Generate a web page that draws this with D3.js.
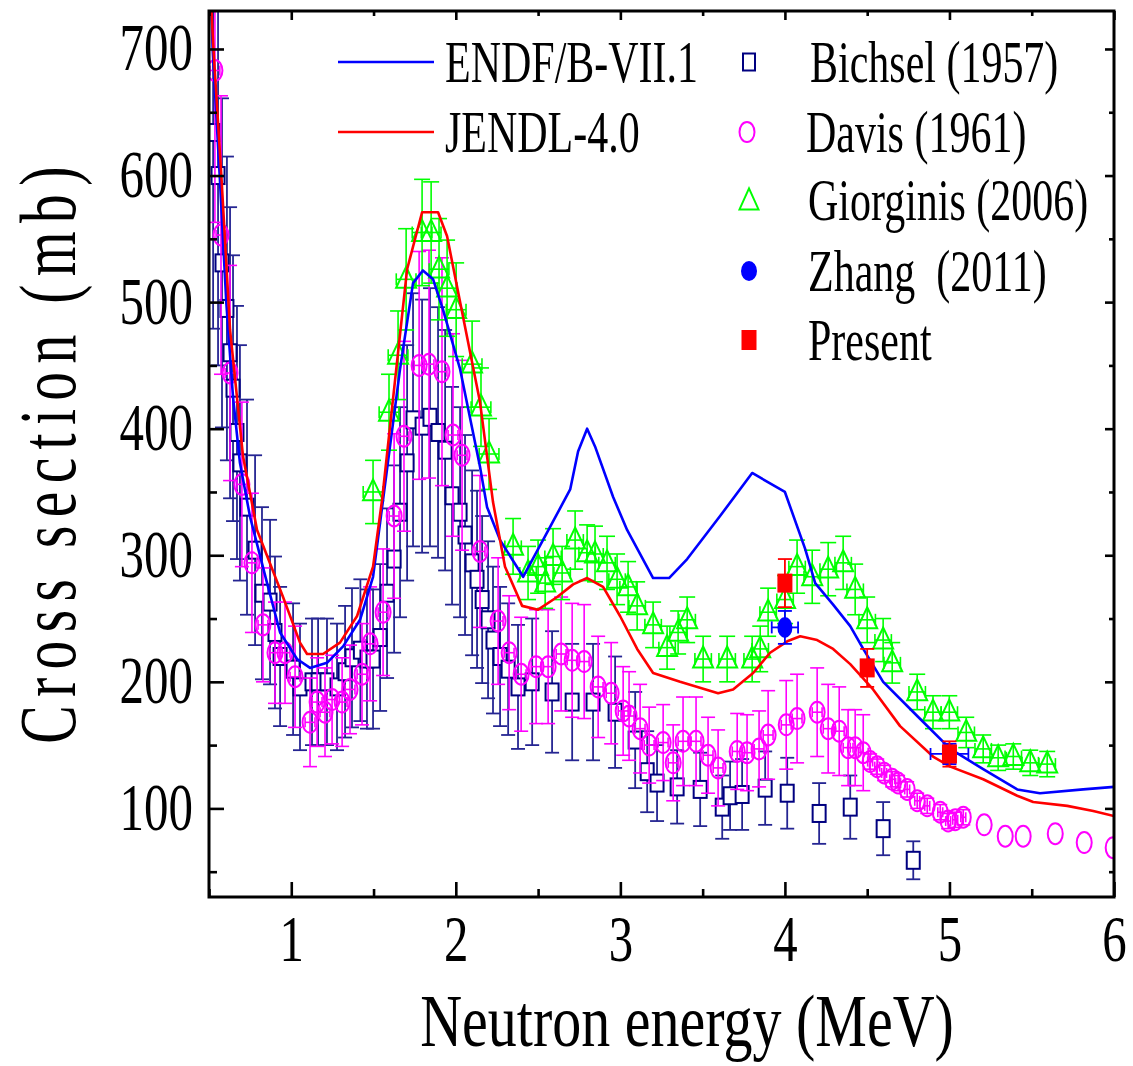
<!DOCTYPE html>
<html><head><meta charset="utf-8">
<script src="https://cdn.jsdelivr.net/npm/d3@7/dist/d3.min.js"></script>
<style>body{margin:0;background:#fff}svg{display:block}</style>
</head><body>
<script>
// ---------- data ----------
const xTicks = [1, 2, 3, 4, 5, 6];
const xMinor = [0.5, 1.5, 2.5, 3.5, 4.5, 5.5];
const yTicks = [100, 200, 300, 400, 500, 600, 700];
const yMinor = [50, 150, 250, 350, 450, 550, 650];
const xTitle = "Neutron energy (MeV)";
const yTitle = "Cross section (mb)";
const lineLabels = ["ENDF/B-VII.1", "JENDL-4.0"];
const symbolLabels = ["Bichsel (1957)", "Davis (1961)", "Giorginis (2006)", "Zhang  (2011)", "Present"];

const endfE  = [0.5,0.522,0.565,0.605,0.646,0.688,0.75,0.853,0.932,1.035,1.114,1.217,1.315,1.418,1.497,1.558,1.661,1.74,1.80,1.862,1.922,2.026,2.147,2.19,2.269,2.409,2.555,2.695,2.743,2.798,2.846,2.956,3.041,3.199,3.296,3.406,3.606,3.801,4.0,4.123,4.184,4.293,4.397,4.476,4.597,4.804,5.005,5.205,5.412,5.55,5.813,6.0];
const endfXS = [800,700,600,500,425,373,330,278,239,218,211,215,228,249,283,344,447,515,525,518,494,447,370,338,312,283,318,352,382,400,386,346,320,282,282,297,331,365,350,305,278,261,244,226,200,173,147,131,115,112,115,117];

const jendlE  = [0.5,0.527,0.575,0.628,0.707,0.792,0.95,1.053,1.096,1.193,1.296,1.4,1.497,1.552,1.704,1.795,1.892,1.947,2.026,2.147,2.226,2.299,2.403,2.5,2.616,2.713,2.798,2.895,2.998,3.102,3.199,3.363,3.594,3.685,3.807,3.91,4.014,4.093,4.196,4.293,4.397,4.536,4.7,4.9,5.005,5.205,5.412,5.509,5.716,5.874,6.0];
const jendlXS = [770,700,600,478,378,320,267,231,222,222,231,252,291,344,526,571,571,552,500,421,342,291,260,257,267,277,282,275,252,226,207,200,191,194,207,223,232,236,233,226,214,194,165,141,133,123,110,105,102,98,94];

const bichselE   = [0.525,0.555,0.579,0.609,0.628,0.646,0.670,0.688,0.731,0.780,0.822,0.871,0.901,0.932,1.011,1.053,1.126,1.163,1.217,1.278,1.327,1.369,1.42,1.46,1.497,1.54,1.582,1.625,1.661,1.704,1.74,1.795,1.843,1.892,1.935,1.977,2.026,2.056,2.099,2.129,2.16,2.196,2.226,2.269,2.318,2.378,2.464,2.585,2.707,2.834,2.968,3.09,3.163,3.223,3.345,3.485,3.619,3.667,3.74,3.88,4.014,4.208,4.397,4.597,4.78];
const bichselXS  = [634,600,531,495,460,432,397,373,338,304,270,263,239,220,210,196,200,200,200,196,208,219,225,218,218,235,270,297,334,373,407,402,409,397,383,347,334,316,294,281,265,249,233,220,210,196,200,192,184,184,176,154,129,120,117,115,101,110,111,116,112,96,101,84,59];
const bichselErr = [155,150,130,120,115,105,100,93,85,75,68,65,60,55,52,50,50,50,50,50,52,55,56,55,55,58,67,74,83,93,100,100,102,99,95,86,83,79,73,70,66,62,58,55,52,49,50,48,46,46,44,38,32,30,29,29,25,27,28,29,28,24,25,21,15];

const davisE    = [0.536,0.573,0.628,0.70,0.761,0.828,0.901,0.962,1.023,1.114,1.157,1.205,1.248,1.309,1.357,1.43,1.479,1.558,1.625,1.685,1.777,1.837,1.916,1.983,2.038,2.147,2.257,2.324,2.397,2.488,2.561,2.64,2.707,2.78,2.865,2.944,3.017,3.053,3.12,3.175,3.26,3.321,3.381,3.46,3.533,3.594,3.71,3.77,3.843,3.898,4.008,4.074,4.196,4.263,4.33,4.384,4.427,4.476,4.518,4.561,4.603,4.652,4.688,4.743,4.804,4.865,4.944,4.992,5.035,5.084,5.211,5.339,5.448,5.643,5.819,5.995];
const davisXS   = [683,553,444,356,294,245,223,223,204,168,184,176,186,184,194,206,230,255,331,394,450,451,445,395,379,303,248,223,206,212,212,222,217,216,196,191,177,173,163,150,152,136,153,153,142,132,145,144,147,158,166,171,176,163,161,148,148,144,137,133,128,123,120,115,106,102,97,90,91,93,87,78,78,80,73,69];
const davisErr  = [120,110,85,65,55,45,40,40,40,35,35,35,35,35,35,40,45,50,65,75,90,90,90,80,75,60,50,45,45,45,45,45,45,45,40,40,35,35,35,30,30,30,35,35,30,30,30,30,30,35,35,35,35,35,35,30,30,30,6,6,6,6,6,6,6,6,6,6,6,6,0,0,0,0,0,0];
const davisEErr = [0.03,0.03,0.03,0.03,0.03,0.03,0.03,0.03,0.03,0.03,0.03,0.03,0.03,0.03,0.03,0.03,0.03,0.03,0.03,0.03,0.03,0.03,0.03,0.03,0.03,0.03,0.03,0.03,0.03,0.03,0.03,0.03,0.03,0.03,0.03,0.03,0.03,0.03,0.03,0.03,0.03,0.03,0.03,0.03,0.03,0.03,0.03,0.03,0.03,0.03,0.03,0.03,0.03,0.03,0.03,0.03,0.03,0.03,0.015,0.015,0.015,0.015,0.015,0.015,0.015,0.015,0.015,0.015,0.015,0.015,0,0,0,0,0,0];

const giorgE    = [1.497,1.594,1.649,1.698,1.795,1.85,1.898,1.947,2.002,2.099,2.153,2.202,2.348,2.439,2.5,2.543,2.591,2.646,2.725,2.798,2.846,2.919,2.98,3.047,3.102,3.199,3.284,3.351,3.406,3.503,3.649,3.801,3.85,3.898,4.001,4.074,4.166,4.263,4.354,4.427,4.5,4.597,4.652,4.804,4.9,4.999,5.102,5.205,5.296,5.388,5.491,5.594];
const giorgXS   = [350,413,458,518,555,555,526,511,494,451,417,380,307,286,291,278,299,286,312,302,301,294,281,275,260,245,227,239,249,218,218,218,226,255,265,291,283,289,294,273,249,233,215,192,176,176,160,147,140,141,136,135];
const giorgErr  = [25,30,35,40,42,40,40,38,37,34,31,28,22,21,21,20,22,21,23,22,22,21,20,20,19,18,17,17,18,18,18,18,18,19,19,21,21,21,21,20,18,17,16,14,13,13,12,11,10,10,10,10];
const giorgEErr = [0.06,0.06,0.06,0.06,0.06,0.06,0.06,0.06,0.06,0.06,0.06,0.06,0.05,0.05,0.05,0.05,0.05,0.05,0.05,0.05,0.05,0.05,0.05,0.05,0.05,0.05,0.05,0.05,0.05,0.05,0.05,0.05,0.05,0.05,0.05,0.05,0.05,0.05,0.05,0.05,0.05,0.05,0.05,0.05,0.05,0.05,0.05,0.05,0.05,0.05,0.05,0.05];

const zhangE    = [5.0, 4.0];
const zhangXS   = [143, 243];
const zhangErr  = [8, 13];
const zhangEErr = [0.115, 0.08];

const presentE   = [4.0, 4.5, 5.0];
const presentXS  = [278, 211, 143];
const presentErr = [19, 15, 10];

// ---------- layout ----------
const W = 1133, H = 1066;
const L = 209, R = 1114, T = 11, B = 897;
const FONT = "'Liberation Serif','Times New Roman',serif";
const x = d3.scaleLinear().domain([0.5, 6]).range([L, R]);
const y = d3.scaleLinear().domain([30, 730]).range([B, T]);

const svg = d3.select("body").append("svg").attr("width", W).attr("height", H);
svg.append("rect").attr("width", W).attr("height", H).attr("fill", "#fff");
svg.append("defs").append("clipPath").attr("id", "clip")
  .append("rect").attr("x", L).attr("y", T).attr("width", R - L).attr("height", B - T);
const plot = svg.append("g").attr("clip-path", "url(#clip)");

const rows = (E, V, Er, Ex) => E.map((e, i) => ({e, v: V[i], err: Er ? Er[i] : 0, ex: Ex ? Ex[i] : 0}));

function errorBars(g, data, color, cap, sw, hcap, opacity) {
  const gg = g.append("g").attr("stroke", color).attr("stroke-width", sw).attr("fill", "none").attr("opacity", opacity || 1);
  data.forEach(d => {
    const cx = x(d.e), cy = y(d.v);
    if (d.err > 0) {
      const y1 = y(d.v + d.err), y2 = y(d.v - d.err);
      gg.append("line").attr("x1", cx).attr("x2", cx).attr("y1", y1).attr("y2", y2);
      gg.append("line").attr("x1", cx - cap).attr("x2", cx + cap).attr("y1", y1).attr("y2", y1);
      gg.append("line").attr("x1", cx - cap).attr("x2", cx + cap).attr("y1", y2).attr("y2", y2);
    }
    if (d.ex > 0) {
      const x1 = x(d.e - d.ex), x2 = x(d.e + d.ex);
      gg.append("line").attr("x1", x1).attr("x2", x2).attr("y1", cy).attr("y2", cy);
      gg.append("line").attr("x1", x1).attr("x2", x1).attr("y1", cy - hcap).attr("y2", cy + hcap);
      gg.append("line").attr("x1", x2).attr("x2", x2).attr("y1", cy - hcap).attr("y2", cy + hcap);
    }
  });
}
const triPath = (cx, cy, w, h) => `M${cx},${cy - h * 0.6}L${cx + w / 2},${cy + h * 0.4}L${cx - w / 2},${cy + h * 0.4}Z`;

// Bichsel
const bich = rows(bichselE, bichselXS, bichselErr);
errorBars(plot, bich, "#000080", 7, 1.8, 0, 0.85);
plot.append("g").selectAll("rect").data(bich).join("rect")
  .attr("x", d => x(d.e) - 6.5).attr("y", d => y(d.v) - 8.5).attr("width", 13).attr("height", 17)
  .attr("fill", "#fff").attr("stroke", "#000080").attr("stroke-width", 2);

// Davis
const dav = rows(davisE, davisXS, davisErr, davisEErr);
errorBars(plot, dav, "#FF00FF", 7, 1.6, 5);
plot.append("g").selectAll("ellipse").data(dav).join("ellipse")
  .attr("cx", d => x(d.e)).attr("cy", d => y(d.v)).attr("rx", 7.5).attr("ry", 10.5)
  .attr("fill", "none").attr("stroke", "#FF00FF").attr("stroke-width", 2);

// Giorginis
const gio = rows(giorgE, giorgXS, giorgErr, giorgEErr);
errorBars(plot, gio, "#00FF00", 8, 1.6, 6);
plot.append("g").selectAll("path").data(gio).join("path")
  .attr("d", d => triPath(x(d.e), y(d.v), 20, 21))
  .attr("fill", "none").attr("stroke", "#00FF00").attr("stroke-width", 2);

// evaluated lines
const line = d3.line().x(d => x(d[0])).y(d => y(d[1]));
plot.append("path").attr("d", line(d3.zip(endfE, endfXS))).attr("fill", "none").attr("stroke", "#0000FF").attr("stroke-width", 2.6).attr("stroke-linejoin", "round");
plot.append("path").attr("d", line(d3.zip(jendlE, jendlXS))).attr("fill", "none").attr("stroke", "#FF0000").attr("stroke-width", 2.6).attr("stroke-linejoin", "round");

// Zhang
const zh = rows(zhangE, zhangXS, zhangErr, zhangEErr);
errorBars(plot, zh, "#0000FF", 7, 1.8, 6);
plot.append("g").selectAll("ellipse").data(zh).join("ellipse")
  .attr("cx", d => x(d.e)).attr("cy", d => y(d.v)).attr("rx", 7.5).attr("ry", 10.5).attr("fill", "#0000FF");

// Present
const pr = rows(presentE, presentXS, presentErr);
errorBars(plot, pr, "#FF0000", 7, 1.8, 0);
plot.append("g").selectAll("rect").data(pr).join("rect")
  .attr("x", d => x(d.e) - 7.5).attr("y", d => y(d.v) - 9.5).attr("width", 15).attr("height", 19).attr("fill", "#FF0000");

// ---------- axes ----------
function axis(gen, tr) {
  const g = svg.append("g").attr("transform", tr).call(gen);
  g.select(".domain").remove();
  g.selectAll(".tick line").attr("stroke", "#000").attr("stroke-width", 2.6);
  return g;
}
const TS = 0.72;
const yl = axis(d3.axisLeft(y).tickValues(yTicks).tickSize(-15).tickFormat(d3.format("d")), `translate(${L},0)`);
yl.selectAll("text").attr("x", -16 / TS).attr("dy", null).attr("y", 21)
  .attr("transform", `scale(${TS},1)`).style("font-family", FONT).style("font-size", "68px").attr("fill", "#000");
axis(d3.axisLeft(y).tickValues(yMinor).tickSize(-8).tickFormat(""), `translate(${L},0)`);
const xb = axis(d3.axisBottom(x).tickValues(xTicks).tickSize(-15).tickFormat(d3.format("d")), `translate(0,${B})`);
xb.selectAll("text").attr("y", 64).attr("dy", null).attr("x", 0)
  .attr("transform", `scale(0.74,1)`)
  .style("font-family", FONT).style("font-size", "66px").attr("fill", "#000");
axis(d3.axisBottom(x).tickValues(xMinor).tickSize(-8).tickFormat(""), `translate(0,${B})`);
axis(d3.axisRight(y).tickValues(yTicks).tickSize(-9).tickFormat(""), `translate(${R},0)`);
axis(d3.axisRight(y).tickValues(yMinor).tickSize(-5).tickFormat(""), `translate(${R},0)`);
axis(d3.axisTop(x).tickValues(xTicks).tickSize(-9).tickFormat(""), `translate(0,${T})`);
axis(d3.axisTop(x).tickValues(xMinor).tickSize(-5).tickFormat(""), `translate(0,${T})`);

svg.append("rect").attr("x", L).attr("y", T).attr("width", R - L).attr("height", B - T)
  .attr("fill", "none").attr("stroke", "#000").attr("stroke-width", 3);

// titles
svg.append("text").attr("transform", `translate(687,1046) scale(0.784,1)`).attr("text-anchor", "middle")
  .style("font-family", FONT).style("font-size", "74px").attr("fill", "#000").text(xTitle);
svg.append("text").attr("transform", `translate(75,451) rotate(-90) scale(0.72,1)`).attr("text-anchor", "middle")
  .style("font-family", FONT).style("font-size", "80px").style("letter-spacing", "11.6px").attr("fill", "#000").text(yTitle);

// ---------- legend ----------
const LS = 0.70;
const legText = (tx, ty, s) => svg.append("text").attr("transform", `translate(${tx},${ty}) scale(${LS},1)`)
  .style("font-family", FONT).style("font-size", "60px").style("white-space", "pre").attr("fill", "#000").text(s);
const lineColors = ["#0000FF", "#FF0000"];
const lineRowsY = [62, 132];
lineLabels.forEach((s, i) => {
  svg.append("line").attr("x1", 338).attr("x2", 434).attr("y1", lineRowsY[i]).attr("y2", lineRowsY[i])
    .attr("stroke", lineColors[i]).attr("stroke-width", 2.6);
  legText(445, lineRowsY[i] + 20, s);
});
const symY = [62, 132, 200, 271, 340];
const symX = 749;
svg.append("rect").attr("x", symX - 6).attr("y", symY[0] - 8.5).attr("width", 12).attr("height", 17)
  .attr("fill", "#fff").attr("stroke", "#000080").attr("stroke-width", 2);
svg.append("ellipse").attr("cx", symX - 2).attr("cy", symY[1]).attr("rx", 7.5).attr("ry", 10)
  .attr("fill", "none").attr("stroke", "#FF00FF").attr("stroke-width", 2);
svg.append("path").attr("d", triPath(symX, symY[2] + 1, 19, 21)).attr("fill", "none").attr("stroke", "#00FF00").attr("stroke-width", 2);
svg.append("ellipse").attr("cx", symX).attr("cy", symY[3]).attr("rx", 8).attr("ry", 10).attr("fill", "#0000FF");
svg.append("rect").attr("x", symX - 7.5).attr("y", symY[4] - 10).attr("width", 15).attr("height", 20).attr("fill", "#FF0000");
const symTextX = [810, 806, 808, 808, 808];
symbolLabels.forEach((s, i) => legText(symTextX[i], symY[i] + 20, s));
</script>
</body></html>
